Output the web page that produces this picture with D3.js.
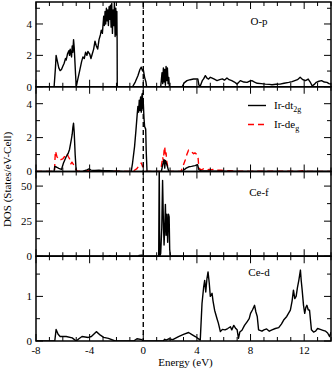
<!DOCTYPE html>
<html lang="en">
<head>
<meta charset="UTF-8" />
<title>DOS panels</title>
<script src="https://d3js.org/d3.v7.min.js"></script>
<style>
  body { margin: 0; background: #fff; }
  svg { display: block; font-family: "Liberation Serif", "DejaVu Serif", serif; }
  .curve { fill: none; stroke-linejoin: round; }
  .tick-label { font-size: 11px; fill: #000; }
</style>
</head>
<body>
<svg id="chart"></svg>
<script>
// energy (eV), DOS pairs
const opData = [[-8,0],[-6.65,0],[-6.55,1.2],[-6.5,2.0],[-6.4,1.6],[-6.3,1.2],[-6.2,1.03],[-6.1,1.1],[-6.0,1.3],[-5.9,1.5],[-5.8,1.8],[-5.75,1.7],[-5.65,2.1],[-5.55,2.3],[-5.5,2.0],[-5.45,2.4],[-5.35,1.9],[-5.3,2.6],[-5.25,2.2],[-5.2,3.0],[-5.15,2.5],[-5.05,0.8],[-5.0,0],[-4.9,0.4],[-4.75,1.0],[-4.6,1.6],[-4.5,1.9],[-4.4,1.8],[-4.3,2.2],[-4.2,2.0],[-4.13,2.25],[-4.0,2.1],[-3.9,1.8],[-3.8,2.1],[-3.7,2.4],[-3.6,2.9],[-3.5,2.6],[-3.4,2.4],[-3.3,3.0],[-3.2,3.3],[-3.13,3.6],[-3.05,3.4],[-2.95,4.5],[-2.9,3.9],[-2.85,4.8],[-2.8,4.0],[-2.75,5.0],[-2.7,4.2],[-2.65,4.9],[-2.6,3.9],[-2.55,5.1],[-2.5,4.3],[-2.45,5.2],[-2.4,3.8],[-2.35,5.3],[-2.3,3.4],[-2.25,4.9],[-2.2,3.9],[-2.15,5.4],[-2.1,3.2],[-2.05,5.0],[-2.0,3.3],[-1.97,4.8],[-1.95,2.9],[-1.94,0],[-0.8,0],[-0.6,0.3],[-0.4,0.7],[-0.25,1.1],[-0.15,1.25],[-0.05,1.0],[0.0,1.1],[0.1,0.6],[0.2,0.3],[0.25,0],[1.3,0],[1.4,0.9],[1.45,0.2],[1.5,1.2],[1.55,0.3],[1.6,1.1],[1.65,0.1],[1.7,1.3],[1.75,0.4],[1.8,1.2],[1.85,0.2],[1.9,0.6],[1.95,0],[2.9,0],[3.05,0.25],[3.26,0.39],[3.5,0.45],[3.75,0.49],[4.07,0.49],[4.15,0.1],[4.25,0.05],[4.4,0.39],[4.5,0.5],[4.63,0.71],[4.75,0.55],[4.87,0.49],[5.0,0.6],[5.1,0.56],[5.3,0.48],[5.5,0.39],[5.7,0.45],[5.9,0.5],[6.05,0.42],[6.24,0.56],[6.4,0.45],[6.6,0.39],[6.8,0.3],[7.0,0.17],[7.24,0.39],[7.5,0.3],[7.74,0.28],[7.9,0.35],[8.1,0.39],[8.3,0.3],[8.5,0.22],[8.8,0.2],[9.1,0.17],[9.4,0.15],[9.6,0.13],[9.9,0.16],[10.2,0.17],[10.5,0.22],[10.85,0.28],[11.1,0.33],[11.3,0.39],[11.5,0.45],[11.7,0.6],[11.9,0.45],[12.1,0.39],[12.3,0.49],[12.45,0.3],[12.6,0.05],[12.75,0.15],[12.9,0.28],[13.1,0.35],[13.3,0.39],[13.5,0.3],[13.7,0.28],[13.85,0.2],[14,0.17]];

const dt2gData = [[-8,0],[-6.65,0],[-6.6,0.3],[-6.45,0.25],[-6.3,0.18],[-6.1,0.12],[-5.95,0.5],[-5.75,0.87],[-5.6,1.07],[-5.5,1.3],[-5.37,1.86],[-5.3,2.2],[-5.25,2.6],[-5.2,2.85],[-5.15,2.3],[-5.08,1.0],[-5.0,0],[-4.5,0.02],[-4.2,0.1],[-4.05,0.15],[-3.9,0.08],[-3.6,0.06],[-3.3,0.08],[-3.0,0.05],[-2.6,0.05],[-2.2,0.03],[-1.8,0.02],[-1.5,0],[-0.9,0],[-0.8,0.5],[-0.65,1.47],[-0.55,2.4],[-0.45,3.4],[-0.4,3.84],[-0.35,3.5],[-0.3,4.2],[-0.25,3.6],[-0.2,4.4],[-0.15,3.5],[-0.1,4.5],[-0.07,4.6],[-0.03,3.7],[0.0,4.1],[0.05,3.2],[0.1,2.65],[0.18,2.5],[0.22,1.2],[0.28,0],[1.35,0],[1.45,0.4],[1.55,0.7],[1.6,0.2],[1.65,0.65],[1.72,0.5],[1.8,0.3],[1.9,0],[2.9,0],[3.05,0.1],[3.2,0.2],[3.4,0.28],[3.6,0.3],[3.85,0.35],[4.05,0.4],[4.15,0.1],[4.3,0.05],[5,0.03],[6,0.02],[7,0.01],[8,0],[14,0]];

const degData = [[-8,0],[-6.62,0],[-6.58,0.8],[-6.55,1.2],[-6.45,0.9],[-6.3,0.68],[-6.15,0.7],[-6.0,0.75],[-5.85,0.9],[-5.7,1.07],[-5.6,0.9],[-5.5,0.75],[-5.4,0.45],[-5.32,0.55],[-5.2,0.4],[-5.05,0.15],[-4.9,0],[-4.5,0.03],[-4,0.05],[-3.5,0.04],[-3,0.03],[-2.5,0.03],[-2,0.02],[-1.5,0.01],[-0.8,0],[-0.5,0.15],[-0.35,0.3],[-0.27,0.38],[-0.15,0.5],[-0.05,0.3],[0.05,0.2],[0.15,0.05],[0.25,0],[1.3,0],[1.38,0.5],[1.45,0.85],[1.5,0.6],[1.55,1.2],[1.6,1.47],[1.65,0.9],[1.7,1.1],[1.75,0.6],[1.82,0.3],[1.9,0],[2.8,0],[2.9,0.17],[3.0,0.4],[3.13,0.68],[3.25,1.0],[3.38,1.27],[3.5,1.2],[3.6,1.17],[3.75,1.05],[3.85,1.1],[4.0,1.0],[4.08,0.87],[4.15,0.2],[4.3,0.1],[4.5,0.15],[4.7,0.08],[4.9,0.12],[5.1,0.1],[5.3,0.13],[5.5,0.07],[5.8,0.08],[6.1,0.05],[6.5,0.04],[7,0.02],[8,0.01],[10,0.02],[11.5,0.01],[12,0.05],[12.3,0.01],[14,0]];

const cefData = [[-8,0],[-2.6,0],[-2.5,0.4],[-2.4,0],[-0.4,0],[-0.3,0.6],[-0.1,0.8],[0,0],[1.15,0],[1.19,65],[1.23,0],[1.3,2],[1.38,20],[1.44,54],[1.5,25],[1.55,8],[1.6,20],[1.65,37],[1.7,15],[1.76,30],[1.82,10],[1.88,30],[1.93,28],[1.97,5],[2.02,0],[14,0]];

const cedData = [[-8,0],[-6.6,0],[-6.5,0.26],[-6.35,0.15],[-6.2,0.1],[-5.75,0.1],[-5.3,0.07],[-5.0,0],[-4.8,0.05],[-4.57,0.1],[-4.1,0.08],[-3.87,0.1],[-3.5,0.21],[-3.2,0.13],[-2.95,0.08],[-2.6,0.06],[-2.1,0],[-0.72,0],[-0.47,0.05],[-0.1,0.03],[0,0],[1.5,0],[1.6,0.04],[1.7,0.02],[1.9,0.05],[2.2,0.03],[2.63,0.1],[3.0,0.15],[3.38,0.19],[3.6,0.15],[3.88,0.1],[4.25,0.02],[4.38,0.84],[4.5,1.2],[4.58,1.36],[4.66,1.1],[4.75,1.4],[4.83,1.55],[4.92,1.3],[5.0,1.0],[5.13,1.07],[5.2,0.9],[5.32,0.69],[5.5,0.5],[5.6,0.4],[5.75,0.21],[5.9,0.26],[6.1,0.25],[6.3,0.28],[6.5,0.32],[6.6,0.25],[6.75,0.35],[6.9,0.28],[7.0,0.25],[7.1,0.06],[7.2,0.2],[7.36,0.24],[7.55,0.35],[7.74,0.43],[7.9,0.5],[8.0,0.62],[8.15,0.7],[8.3,0.8],[8.4,0.65],[8.5,0.55],[8.6,0.25],[8.85,0.22],[9.0,0.25],[9.2,0.27],[9.4,0.22],[9.6,0.25],[9.85,0.28],[10.1,0.3],[10.3,0.38],[10.47,0.47],[10.7,0.55],[10.97,0.69],[11.1,0.9],[11.2,1.14],[11.3,0.95],[11.4,1.0],[11.5,1.2],[11.6,1.36],[11.72,1.59],[11.78,1.35],[11.85,1.14],[11.95,0.8],[12.04,0.62],[12.12,0.75],[12.2,0.8],[12.3,0.7],[12.4,0.69],[12.54,0.25],[12.7,0.2],[12.85,0.22],[13.0,0.28],[13.2,0.26],[13.4,0.24],[13.6,0.22],[13.75,0.18],[13.9,0.1],[14,0.2]];

const xMajor = [-8, -4, 0, 4, 8, 12];

const panels = [
  { name: "O-p", ymax: 5.4, major: [0, 2, 4], minor: [1, 3, 5], series: [{ data: opData, color: "#000", dash: null }] },
  { name: null, ymax: 5.0, major: [0, 2, 4], minor: [1, 3], series: [{ data: degData, color: "#ff0000", dash: "6,4" }, { data: dt2gData, color: "#000", dash: null }] },
  { name: "Ce-f", ymax: 60.4, major: [0, 25, 50], minor: [12.5, 37.5], series: [{ data: cefData, color: "#000", dash: null }] },
  { name: "Ce-d", ymax: 1.9, major: [0, 1], minor: [0.5, 1.5], series: [{ data: cedData, color: "#000", dash: null }] }
];

const W = 335, H = 370;
const plotL = 36, plotR = 331, plotT = 2, panelH = 84.75;

const svg = d3.select("#chart").attr("width", W).attr("height", H);
const x = d3.scaleLinear().domain([-8, 14]).range([plotL, plotR]);
const defs = svg.append("defs");

panels.forEach((p, i) => {
  const y0 = plotT + i * panelH, y1 = y0 + panelH;
  const y = d3.scaleLinear().domain([0, p.ymax]).range([y1, y0]);
  const g = svg.append("g");

  defs.append("clipPath").attr("id", "clip" + i)
    .append("rect").attr("x", plotL).attr("y", y0).attr("width", plotR - plotL).attr("height", panelH);

  const line = d3.line().x(d => x(d[0])).y(d => y(d[1]));
  p.series.forEach(s => {
    g.append("path")
      .attr("class", "curve")
      .attr("clip-path", `url(#clip${i})`)
      .attr("d", line(s.data))
      .attr("stroke", s.color)
      .attr("stroke-width", 1.4)
      .attr("stroke-dasharray", s.dash);
  });

  // x ticks top and bottom, inward
  d3.range(-8, 15, 1).forEach(v => {
    const len = xMajor.includes(v) ? 7 : 4;
    g.append("line").attr("x1", x(v)).attr("x2", x(v)).attr("y1", y1).attr("y2", y1 - len).attr("stroke", "#000").attr("stroke-width", 1);
    g.append("line").attr("x1", x(v)).attr("x2", x(v)).attr("y1", y0).attr("y2", y0 + len).attr("stroke", "#000").attr("stroke-width", 1);
  });
  // y ticks left and right, inward
  p.major.concat(p.minor).forEach(v => {
    const len = p.major.includes(v) ? 7 : 4;
    g.append("line").attr("x1", plotL).attr("x2", plotL + len).attr("y1", y(v)).attr("y2", y(v)).attr("stroke", "#000").attr("stroke-width", 1);
    g.append("line").attr("x1", plotR).attr("x2", plotR - len).attr("y1", y(v)).attr("y2", y(v)).attr("stroke", "#000").attr("stroke-width", 1);
  });
  g.selectAll("text.ylab").data(p.major).join("text")
    .attr("class", "tick-label ylab")
    .attr("x", plotL - 4).attr("y", d => y(d)).attr("dy", "0.35em")
    .attr("text-anchor", "end")
    .text(d => d);

  g.append("rect").attr("x", plotL).attr("y", y0).attr("width", plotR - plotL).attr("height", panelH)
    .attr("fill", "none").attr("stroke", "#000").attr("stroke-width", 1.5);

  if (p.name) {
    const ly = i === 0 ? y0 + 23 : (i === 2 ? y0 + 24 : y0 + 20);
    g.append("text").attr("class", "tick-label").attr("x", 259).attr("y", ly)
      .attr("text-anchor", "middle").text(p.name);
  }
});

// Fermi level
svg.append("line")
  .attr("x1", x(0)).attr("x2", x(0)).attr("y1", plotT).attr("y2", plotT + 4 * panelH)
  .attr("stroke", "#000").attr("stroke-width", 1.4).attr("stroke-dasharray", "5,3");

// legend in panel 2
const leg = svg.append("g");
const legendItems = [
  { main: "Ir-dt", sub: "2g", color: "#000", dash: null, y: 105.5 },
  { main: "Ir-de", sub: "g", color: "#ff0000", dash: "6,4", y: 124.5 }
];
legendItems.forEach(d => {
  leg.append("line").attr("x1", 248).attr("x2", 266).attr("y1", d.y).attr("y2", d.y)
    .attr("stroke", d.color).attr("stroke-width", 1.4).attr("stroke-dasharray", d.dash);
  const t = leg.append("text").attr("class", "tick-label").attr("x", 274).attr("y", d.y + 3.5);
  t.append("tspan").text(d.main);
  t.append("tspan").attr("dy", 3).style("font-size", "8px").text(d.sub);
});

// x tick labels
svg.selectAll("text.xlab").data(xMajor).join("text")
  .attr("class", "tick-label xlab")
  .attr("x", d => x(d)).attr("y", plotT + 4 * panelH + 13)
  .attr("text-anchor", "middle")
  .text(d => d);

svg.append("text").attr("class", "tick-label")
  .attr("x", (plotL + plotR) / 2 + 2).attr("y", 366)
  .attr("text-anchor", "middle").text("Energy (eV)");

svg.append("text").attr("class", "tick-label")
  .attr("transform", `translate(11,${plotT + 2 * panelH + 8}) rotate(-90)`)
  .attr("text-anchor", "middle").text("DOS (States/eV-Cell)");
</script>
</body>
</html>
